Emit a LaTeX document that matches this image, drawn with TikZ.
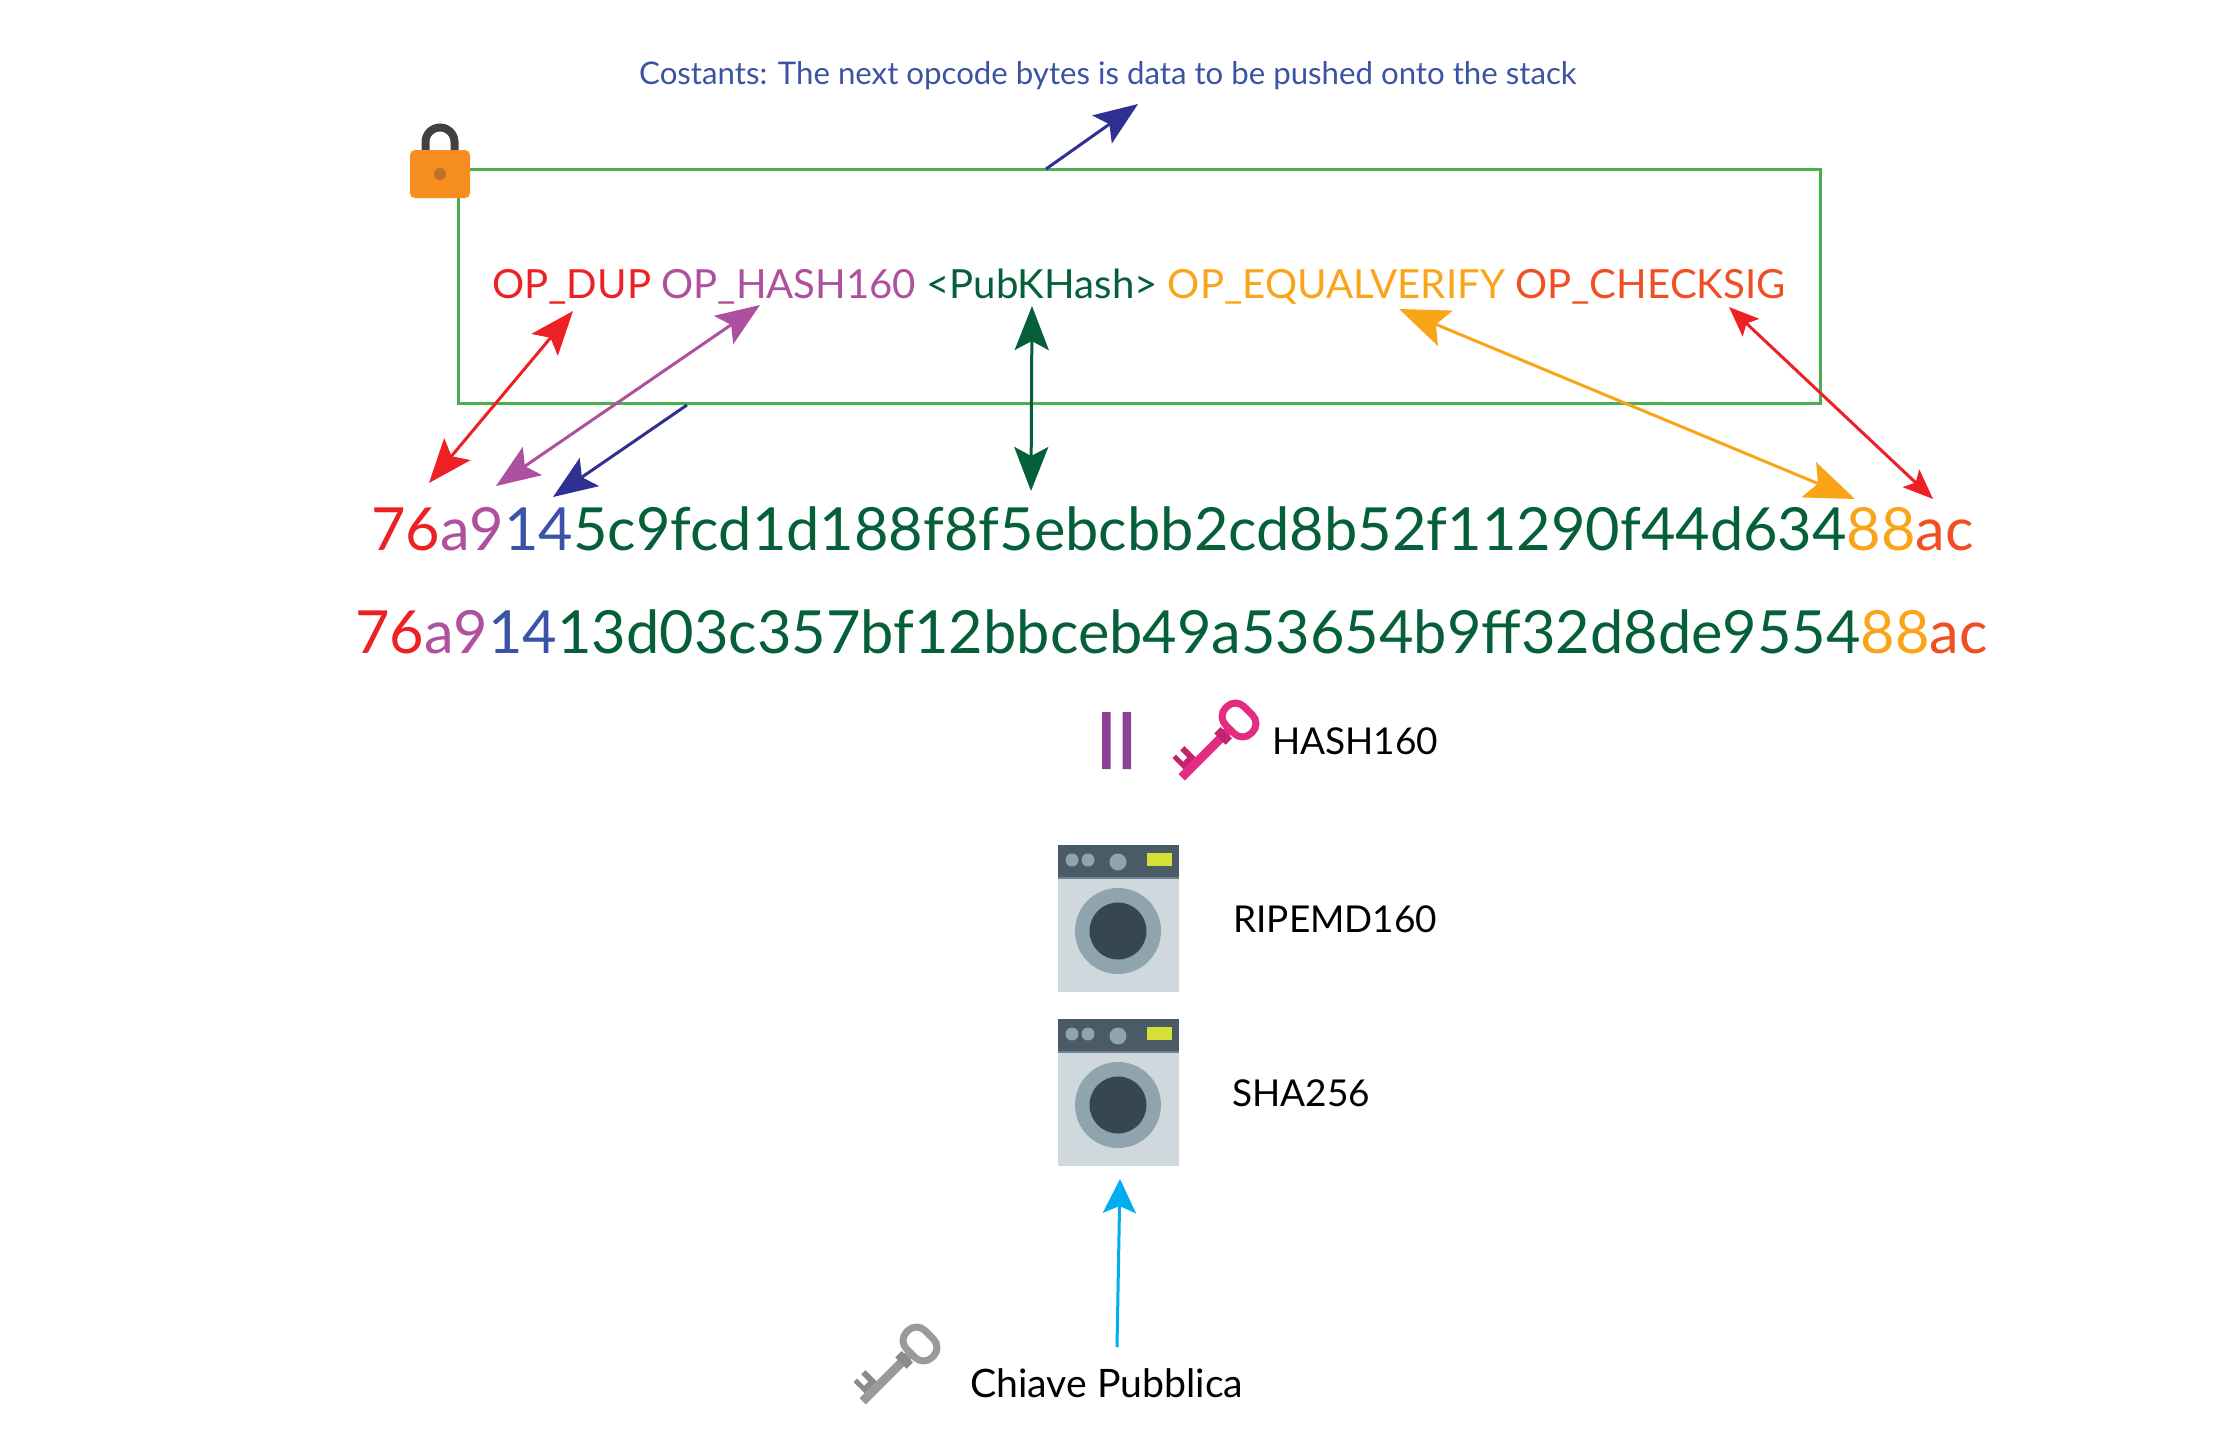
\documentclass[tikz,border=0pt]{standalone}
\usepackage{fontspec}
\setmainfont{Lato}
\usetikzlibrary{arrows.meta}

\definecolor{opred}{HTML}{ED2024}
\definecolor{oppurple}{HTML}{AE509D}
\definecolor{opblue}{HTML}{3B53A4}
\definecolor{opnavy}{HTML}{2E3192}
\definecolor{opgreen}{HTML}{05603A}
\definecolor{oporange}{HTML}{FAA41A}
\definecolor{opflame}{HTML}{F04E23}
\definecolor{boxgreen}{HTML}{4CAF4F}
\definecolor{lockorange}{HTML}{F68E1F}
\definecolor{lockdark}{HTML}{C0702A}
\definecolor{lockgrey}{HTML}{414042}
\definecolor{pubcyan}{HTML}{00AEEF}
\definecolor{barpurple}{HTML}{8E3F97}
\definecolor{keypink}{HTML}{E32B82}
\definecolor{keypinkdark}{HTML}{C2246F}
\definecolor{keygrey}{HTML}{999A9B}
\definecolor{keygreydark}{HTML}{8A8B8C}
\definecolor{washbody}{HTML}{CFD8DC}
\definecolor{washtop}{HTML}{485B67}
\definecolor{washline}{HTML}{71838E}
\definecolor{washring}{HTML}{90A4AE}
\definecolor{washdoor}{HTML}{37474F}
\definecolor{washlamp}{HTML}{D4E035}

\tikzset{
    x=1pt, y=-1pt,
    >={Stealth[length=44pt,width=34pt,inset=9pt]},
    link/.style={line width=3pt},
    plaintext/.style={anchor=base west, inner sep=0pt, font=\fontsize{37}{44}\selectfont},
    hextext/.style={anchor=base west, inner sep=0pt, font=\fontsize{59.5}{70}\selectfont, text=opgreen},
    pics/washer/.style={code={
        \fill[washbody] (0,0) rectangle (121,147);
        \fill[washtop] (0,0) rectangle (121,32);
        \fill[washline] (0,32) rectangle (121,34);
        \fill[washring] (14,15) circle (6.5) (30,15) circle (6.5) (60,17) circle (8.5);
        \fill[washlamp] (89,8) rectangle (114,21);
        \fill[washring] (60,86) circle (43);
        \fill[washdoor] (60,86) circle (28.5);
    }},
    pics/hashkey/.style 2 args={code={
        \begin{scope}[rotate=45]
            \draw[#1, line width=7pt, rounded corners=12pt] (-13,-18) rectangle (13,18);
            \fill[#1] (-81,-4.5) rectangle (-15,4.5);
            \fill[#2] (-27,-8) rectangle (-18,8);
            \fill[#2] (-74,-4.5) -- (-74,-20) -- (-69,-20) -- (-69,-10) -- (-63,-10) -- (-63,-20) -- (-57,-20) -- (-57,-4.5) -- cycle;
        \end{scope}
    }},
}

\begin{document}
\begin{tikzpicture}

    \useasboundingbox (0,0) rectangle (2232,1453);

    \draw [boxgreen, line width=3pt] (458,169) rectangle (1820,403);

    %padlock on the corner of the box
    \draw [lockgrey, line width=8pt] (425.5,152) -- (425.5,142) arc (180:360:14.5) -- (454.5,152);
    \fill [lockorange, rounded corners=5pt] (410,150) rectangle (470,198);
    \fill [lockdark] (440,174) circle (6);

    \node [font=\fontsize{31.2}{36}\selectfont, text=opblue, anchor=base west, inner sep=0pt] (notetext) at (639,85)
        {Costants: The next opcode bytes is data to be pushed onto the stack};

    \node [plaintext, font=\fontsize{40.15}{48}\selectfont] (scripttext) at (492,298) {\textcolor{opred}{OP\_DUP} \textcolor{oppurple}{OP\_HASH160} \textcolor{opgreen}{<PubKHash>} \textcolor{oporange}{OP\_EQUALVERIFY} \textcolor{opflame}{OP\_CHECKSIG}};

    \node [hextext] (hexone) at (371,550) {\textcolor{opred}{76}\textcolor{oppurple}{a9}\textcolor{opblue}{14}5c9fcd1d188f8f5ebcbb2cd8b52f11290f44d634\textcolor{oporange}{88}\textcolor{opflame}{ac}};
    \node [hextext] (hextwo) at (355,653) {\textcolor{opred}{76}\textcolor{oppurple}{a9}\textcolor{opblue}{14}13d03c357bf12bbceb49a53654b9ff32d8de9554\textcolor{oporange}{88}\textcolor{opflame}{ac}};

    %ends of the arrows
    \coordinate (dupup) at (573,311);
    \coordinate (dupdown) at (429,483);
    \coordinate (hashup) at (760,305);
    \coordinate (hashdown) at (496,486);
    \coordinate (pushfrom) at (687,405);
    \coordinate (pushto) at (553,497);
    \coordinate (noteto) at (1138,104);
    \coordinate (notefrom) at (1046,169);
    \coordinate (pubup) at (1032,306);
    \coordinate (pubdown) at (1031,491);
    \coordinate (equalup) at (1399,309);
    \coordinate (equaldown) at (1855,499);
    \coordinate (checkup) at (1729,307);
    \coordinate (checkdown) at (1933,499);
    \coordinate (keyfrom) at (1117,1347);
    \coordinate (keyto) at (1120,1179);

    \draw [<->, link, opred] (dupup) -- (dupdown);
    \draw [<->, link, oppurple] (hashup) -- (hashdown);
    \draw [->, link, opnavy] (pushfrom) -- (pushto);
    \draw [->, link, opnavy] (notefrom) -- (noteto);
    \draw [<->, link, opgreen] (pubup) -- (pubdown);
    \draw [<->, link, oporange, >={Stealth[length=50pt,width=38pt,inset=10pt]}] (equalup) -- (equaldown);
    \draw [<->, link, opred, >={Stealth[length=30pt,width=24pt,inset=6pt]}] (checkup) -- (checkdown);

    \fill [barpurple] (1102,712) rectangle (1110.5,769) (1122.5,712) rectangle (1131,769);
    \pic at (1239,720) {hashkey={keypink}{keypinkdark}};
    \node [plaintext] (hashlabel) at (1272,754) {HASH160};

    \pic at (1058,845) {washer};
    \node [plaintext] (ripelabel) at (1233,932) {RIPEMD160};
    \pic at (1058,1019) {washer};
    \node [plaintext] (shalabel) at (1232,1106) {SHA256};

    \draw [->, link, pubcyan, >={Stealth[length=34pt,width=33pt,inset=7pt]}] (keyfrom) -- (keyto);

    \pic at (920,1344) {hashkey={keygrey}{keygreydark}};
    \node [plaintext, font=\fontsize{39.2}{46}\selectfont] (publabel) at (970,1397) {Chiave Pubblica};

\end{tikzpicture}
\end{document}
